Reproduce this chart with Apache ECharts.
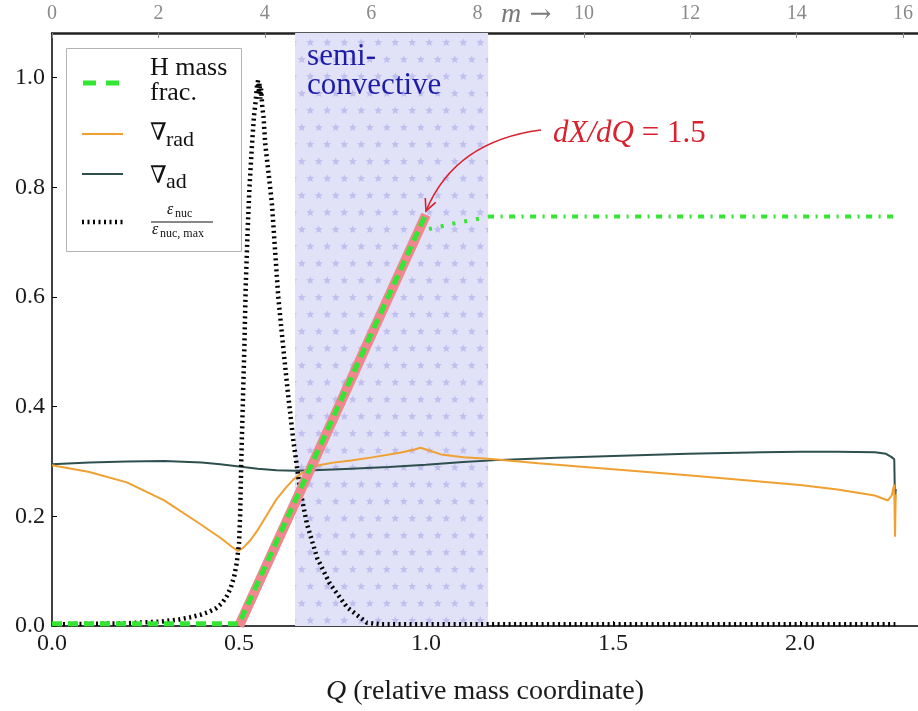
<!DOCTYPE html>
<html><head><meta charset="utf-8">
<script src="https://cdn.jsdelivr.net/npm/echarts@6/dist/echarts.min.js"></script>
<style>html,body{margin:0;padding:0;background:#fff}#c{width:918px;height:711px}</style>
</head><body><div id="c"></div><script>
// ---------------- data ----------------
const qRange = [0, 2.3155];          // bottom axis (relative mass coordinate Q)
const mRange = [0, 16.28];           // top axis (mass m)
const yRange = [0, 1.0816];
const bandQ = [0.65, 1.166];         // semi-convective region
// H mass fraction: core + ramp (dashed), semi-convective tail (dotted), envelope (dash-dot)
const hCoreRamp = [[0, 0.004], [0.5, 0.004], [1.0, 0.752]];
const hSemi = [[1.008, 0.724], [1.08, 0.735], [1.166, 0.746]];
const hEnvelope = [[1.166, 0.747], [2.258, 0.747]];
// linear fit dX/dQ = 1.5
const fitLine = [[0.5, 0.0], [1.0, 0.75]];
// radiative gradient
const gradRad = [[0, 0.293], [0.1, 0.281], [0.2, 0.262], [0.3, 0.229], [0.396, 0.186], [0.45, 0.161],
  [0.48, 0.145], [0.497, 0.137], [0.51, 0.142], [0.53, 0.156], [0.548, 0.173], [0.575, 0.203],
  [0.6, 0.231], [0.625, 0.252], [0.645, 0.267], [0.67, 0.28], [0.69, 0.289], [0.72, 0.294],
  [0.752, 0.298], [0.8, 0.302], [0.86, 0.308], [0.93, 0.316], [0.97, 0.322], [0.985, 0.325],
  [1.0, 0.322], [1.04, 0.313], [1.1, 0.308], [1.166, 0.305], [1.3, 0.297], [1.5, 0.286],
  [1.7, 0.275], [1.9, 0.263], [2.0, 0.257], [2.1, 0.249], [2.2, 0.238], [2.235, 0.229],
  [2.245, 0.238], [2.252, 0.258], [2.254, 0.163], [2.256, 0.24]];
// adiabatic gradient
const gradAd = [[0, 0.295], [0.1, 0.298], [0.2, 0.3], [0.3, 0.301], [0.4, 0.298], [0.45, 0.295],
  [0.5, 0.291], [0.55, 0.287], [0.6, 0.284], [0.65, 0.283], [0.7, 0.284], [0.8, 0.287],
  [0.9, 0.29], [1.0, 0.294], [1.1, 0.299], [1.2, 0.303], [1.35, 0.307], [1.5, 0.31],
  [1.7, 0.314], [1.9, 0.317], [2.0, 0.318], [2.1, 0.318], [2.2, 0.317], [2.23, 0.314],
  [2.245, 0.308], [2.252, 0.304], [2.254, 0.228], [2.256, 0.25]];
// normalised nuclear energy generation
const epsNuc = [[0, 0.003], [0.1, 0.004], [0.2, 0.005], [0.29, 0.008], [0.34, 0.012], [0.37, 0.016],
  [0.4, 0.021], [0.42, 0.026], [0.44, 0.033], [0.455, 0.042], [0.468, 0.055], [0.478, 0.07],
  [0.487, 0.09], [0.494, 0.115], [0.5, 0.15], [0.503, 0.2], [0.506, 0.3], [0.51, 0.4],
  [0.514, 0.5], [0.518, 0.62], [0.523, 0.72], [0.528, 0.8], [0.534, 0.87], [0.54, 0.93],
  [0.545, 0.96], [0.548, 0.985], [0.551, 0.995], [0.553, 0.972], [0.555, 0.99], [0.557, 0.962],
  [0.559, 0.98], [0.562, 0.95], [0.566, 0.925], [0.57, 0.88], [0.58, 0.82], [0.588, 0.77],
  [0.596, 0.69], [0.605, 0.6], [0.618, 0.51], [0.63, 0.43], [0.645, 0.34], [0.663, 0.25],
  [0.682, 0.185], [0.709, 0.124], [0.743, 0.077], [0.789, 0.034], [0.842, 0.006],
  [0.88, 0.003], [2.255, 0.003]];
const annotTip = [1.0, 0.757];
const annotText = '{i|dX/dQ}{n| = 1.5}';

// ---------------- styling ----------------
const SERIF = '"Liberation Serif", "DejaVu Serif", serif';
function starPath(g, cx, cy, R, r) {
  g.beginPath();
  for (let k = 0; k < 10; k++) {
    const rad = k % 2 === 0 ? R : r;
    const a = -Math.PI / 2 + k * Math.PI / 5;
    const x = cx + rad * Math.cos(a), y = cy + rad * Math.sin(a);
    if (k === 0) g.moveTo(x, y); else g.lineTo(x, y);
  }
  g.closePath(); g.fill();
}
function makeStarPattern() {
  const c = document.createElement('canvas');
  c.width = 17; c.height = 34;
  const g = c.getContext('2d');
  g.fillStyle = '#e1e1f8'; g.fillRect(0, 0, 17, 34);
  g.fillStyle = '#c0c0ee';
  starPath(g, 4.25, 8.5, 4.3, 1.9);
  starPath(g, 12.75, 25.5, 4.3, 1.9);
  return c;
}
function fmtStep(step, dec) {
  return v => Math.abs(v / step - Math.round(v / step)) < 1e-6 ? v.toFixed(dec) : '';
}

const chart = echarts.init(document.getElementById('c'), null, {renderer: 'canvas'});
const option = {
  animation: false,
  backgroundColor: '#fff',
  grid: {left: 52, right: 0, top: 33, bottom: 75},
  xAxis: [{
    type: 'value', position: 'bottom', min: qRange[0], max: qRange[1], interval: 0.5,
    axisLine: {show: true, onZero: false, lineStyle: {color: '#000', width: 1.5}},
    axisTick: {show: true, inside: true, length: 5, lineStyle: {color: '#000'}},
    axisLabel: {fontFamily: SERIF, fontSize: 24, color: '#1a1a1a', margin: 6, showMaxLabel: false, formatter: fmtStep(0.5, 1)},
    splitLine: {show: false},
    name: '{i|Q} (relative mass coordinate)', nameLocation: 'middle', nameGap: 52,
    nameTextStyle: {fontFamily: SERIF, fontSize: 28, color: '#1a1a1a',
      rich: {i: {fontFamily: SERIF, fontSize: 28, fontStyle: 'italic', color: '#1a1a1a'}}}
  }, {
    type: 'value', position: 'top', min: mRange[0], max: mRange[1], interval: 2,
    axisLine: {show: true, onZero: false, lineStyle: {color: '#222', width: 2.5}},
    axisTick: {show: true, inside: true, length: 5, lineStyle: {color: '#888'}},
    axisLabel: {fontFamily: SERIF, fontSize: 20, color: '#8a8a8a', margin: 9, showMaxLabel: false, formatter: fmtStep(2, 0)},
    splitLine: {show: false}
  }],
  yAxis: [{
    type: 'value', min: yRange[0], max: yRange[1], interval: 0.2,
    axisLine: {show: true, onZero: false, lineStyle: {color: '#000', width: 1.5}},
    axisTick: {show: true, inside: true, length: 5, lineStyle: {color: '#000'}},
    axisLabel: {fontFamily: SERIF, fontSize: 24, color: '#1a1a1a', margin: 7, showMaxLabel: false, formatter: fmtStep(0.2, 1)},
    splitLine: {show: false}
  }],
  series: [
    {type: 'line', name: 'band', data: [], z: 1, silent: true,
      markArea: {silent: true, itemStyle: {color: {image: makeStarPattern(), repeat: 'repeat'}},
        data: [[{xAxis: bandQ[0]}, {xAxis: bandQ[1]}]]}},
    {type: 'line', name: '∇ad', data: gradAd, symbol: 'none', z: 3,
      lineStyle: {color: '#2f4f4f', width: 2}},
    {type: 'line', name: '∇rad', data: gradRad, symbol: 'none', z: 3,
      lineStyle: {color: '#f0a030', width: 2}},
    {type: 'line', name: 'eps', data: epsNuc, symbol: 'none', z: 4,
      lineStyle: {color: '#000', width: 4.5, type: [2, 3.5], cap: 'butt'}},
    {type: 'line', name: 'fit', data: fitLine, symbol: 'none', z: 5,
      lineStyle: {color: '#f0868e', width: 10, cap: 'butt'}},
    {type: 'line', name: 'H mass frac.', data: hCoreRamp, symbol: 'none', z: 6,
      lineStyle: {color: '#33e633', width: 5, type: [10, 6], cap: 'butt'}},
    {type: 'line', name: 'H mass frac.', data: hSemi, symbol: 'none', z: 6,
      lineStyle: {color: '#33e633', width: 4, type: [3, 9], cap: 'butt'}},
    {type: 'line', name: 'H mass frac.', data: hEnvelope, symbol: 'none', z: 6,
      lineStyle: {color: '#33e633', width: 4, type: [6, 6.5, 2, 6.5], cap: 'butt'}}
  ]
};
chart.setOption(option);

// ---------------- annotations / legend ----------------
const tip = chart.convertToPixel({xAxisIndex: 0, yAxisIndex: 0}, annotTip);
const start = [541, 130], ctrl = [455, 141];
const dx = tip[0] - ctrl[0], dy = tip[1] - ctrl[1], dl = Math.hypot(dx, dy);
const rx = -dx / dl, ry = -dy / dl, hl = 13, ang = 0.45;
function rot(x, y, a) { return [x * Math.cos(a) - y * Math.sin(a), x * Math.sin(a) + y * Math.cos(a)]; }
const h1 = rot(rx, ry, ang), h2 = rot(rx, ry, -ang);
const RED = '#d8222f';
const bandL = chart.convertToPixel({xAxisIndex: 0, yAxisIndex: 0}, [bandQ[0], 0])[0];

const graphic = [
  // semi-convective label
  {type: 'text', left: bandL + 12, top: 41, z: 20,
    style: {text: 'semi-\nconvective', fontFamily: SERIF, fontSize: 31, lineHeight: 29, fill: '#1c1ca8'}},
  // m -> label on the top axis
  {type: 'text', left: 501, top: 1, z: 20,
    style: {text: '{i|m}{a| →}', fontFamily: SERIF, fill: '#7a7a7a',
      rich: {i: {fontFamily: SERIF, fontSize: 28, fontStyle: 'italic', fill: '#7a7a7a'},
             a: {fontFamily: '"DejaVu Serif", serif', fontSize: 26, fill: '#7a7a7a'}}}},
  // annotation
  {type: 'text', x: 553, y: 134, z: 20,
    style: {text: annotText, verticalAlign: 'middle', fill: RED,
      rich: {i: {fontFamily: SERIF, fontSize: 31, fontStyle: 'italic', fill: RED},
             n: {fontFamily: SERIF, fontSize: 31, fill: RED}}}},
  {type: 'bezierCurve', z: 20, shape: {x1: start[0], y1: start[1], cpx1: ctrl[0], cpy1: ctrl[1], x2: tip[0], y2: tip[1]},
    style: {stroke: RED, lineWidth: 1.6, fill: null}},
  {type: 'polyline', z: 20, shape: {points: [[tip[0] + h1[0] * hl, tip[1] + h1[1] * hl], tip, [tip[0] + h2[0] * hl, tip[1] + h2[1] * hl]]},
    style: {stroke: RED, lineWidth: 1.6, fill: null}},
  // legend
  {type: 'rect', z: 30, shape: {x: 66.5, y: 48.5, width: 175, height: 203},
    style: {fill: '#fff', stroke: '#b4b4b4', lineWidth: 1}},
  {type: 'line', z: 31, shape: {x1: 83, y1: 83, x2: 119, y2: 83},
    style: {stroke: '#33e633', lineWidth: 5, lineDash: [13, 10]}},
  {type: 'text', z: 31, x: 150, y: 56,
    style: {text: 'H mass\nfrac.', fontFamily: SERIF, fontSize: 26, lineHeight: 25, fill: '#111'}},
  {type: 'line', z: 31, shape: {x1: 82, y1: 134, x2: 123, y2: 134},
    style: {stroke: '#f0a030', lineWidth: 2}},
  {type: 'text', z: 31, x: 150, y: 134,
    style: {text: '∇', fontFamily: SERIF, fontSize: 24, verticalAlign: 'middle', fill: '#111'}},
  {type: 'text', z: 31, x: 166, y: 140,
    style: {text: 'rad', fontFamily: SERIF, fontSize: 22, verticalAlign: 'middle', fill: '#111'}},
  {type: 'line', z: 31, shape: {x1: 82, y1: 174, x2: 123, y2: 174},
    style: {stroke: '#2f4f4f', lineWidth: 2}},
  {type: 'text', z: 31, x: 150, y: 177,
    style: {text: '∇', fontFamily: SERIF, fontSize: 24, verticalAlign: 'middle', fill: '#111'}},
  {type: 'text', z: 31, x: 166, y: 182,
    style: {text: 'ad', fontFamily: SERIF, fontSize: 22, verticalAlign: 'middle', fill: '#111'}},
  {type: 'line', z: 31, shape: {x1: 82, y1: 222, x2: 123, y2: 222},
    style: {stroke: '#000', lineWidth: 4.5, lineDash: [2, 3.5], lineCap: 'butt'}},
  {type: 'text', z: 31, x: 167, y: 210,
    style: {text: 'ε', fontFamily: SERIF, fontSize: 16, fontStyle: 'italic', verticalAlign: 'middle', fill: '#111'}},
  {type: 'text', z: 31, x: 175, y: 214,
    style: {text: 'nuc', fontFamily: SERIF, fontSize: 12, verticalAlign: 'middle', fill: '#111'}},
  {type: 'line', z: 31, shape: {x1: 151, y1: 222, x2: 213, y2: 222},
    style: {stroke: '#111', lineWidth: 1}},
  {type: 'text', z: 31, x: 152, y: 230,
    style: {text: 'ε', fontFamily: SERIF, fontSize: 16, fontStyle: 'italic', verticalAlign: 'middle', fill: '#111'}},
  {type: 'text', z: 31, x: 160, y: 234,
    style: {text: 'nuc, max', fontFamily: SERIF, fontSize: 12, verticalAlign: 'middle', fill: '#111'}}
];
chart.setOption({graphic: graphic});
</script></body></html>
